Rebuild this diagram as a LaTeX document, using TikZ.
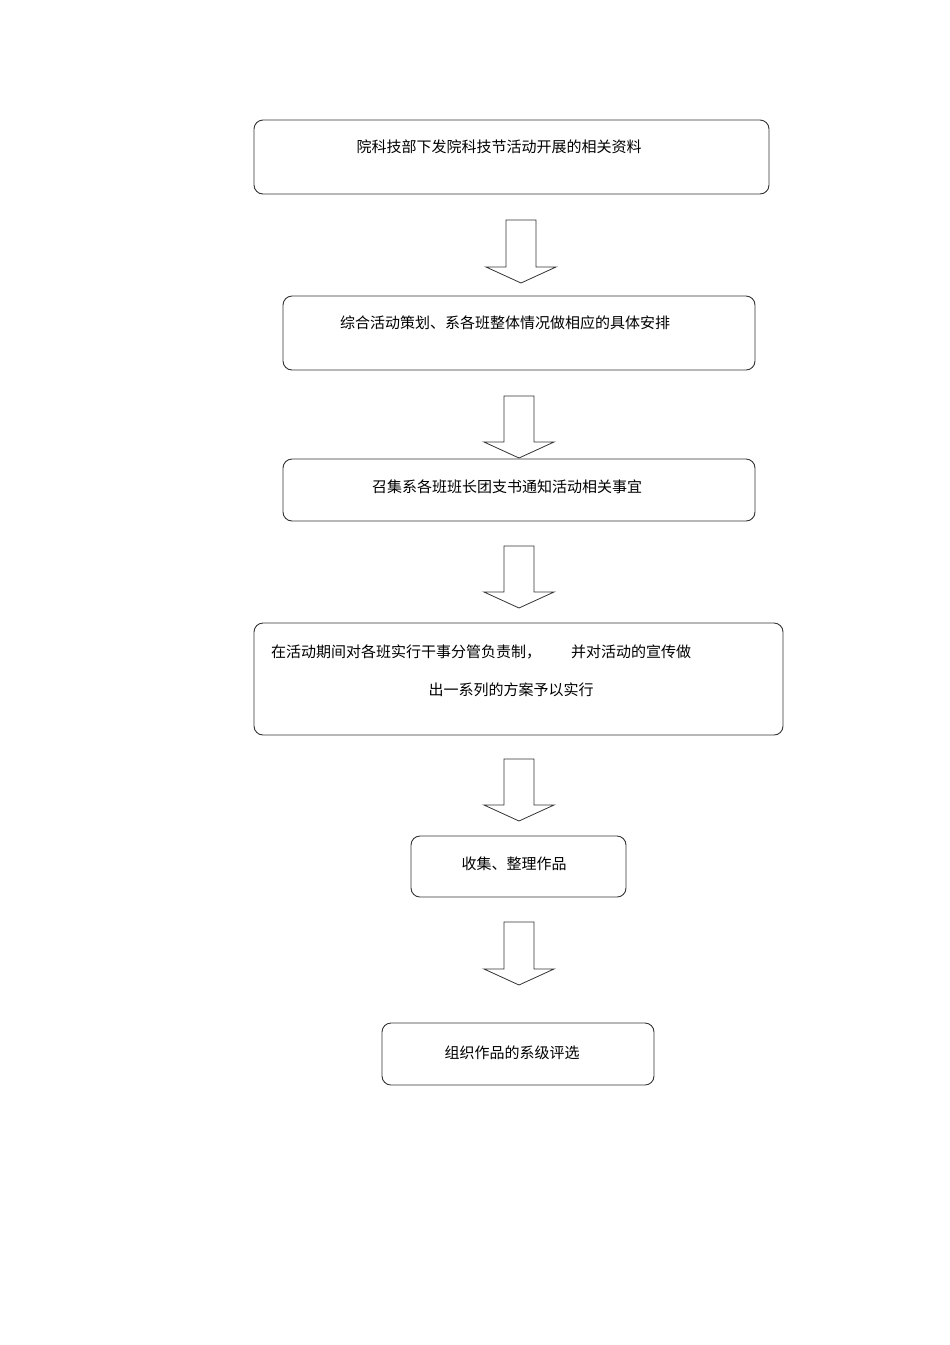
\documentclass[tikz,border=0pt]{standalone}
\usepackage{fontspec}
\setmainfont{Noto Sans CJK SC}
\begin{document}
\begin{tikzpicture}[x=1pt,y=-1pt,
  stepbox/.style={draw=black!80,line width=0.9pt,rounded corners=9pt},
  lbl/.style={font=\fontsize{15}{18}\selectfont,inner sep=0pt},
  blk/.style={draw=black!80,line width=0.8pt,fill=white}]
\useasboundingbox (0,0) rectangle (950,1345);
\newcommand{\downarr}[3]{% cx, top, bottom
  \draw[blk] (#1-15,#2) -- (#1+15,#2) -- (#1+15,#3-16) -- (#1+35,#3-16) -- (#1,#3) -- (#1-35,#3-16) -- (#1-15,#3-16) -- cycle;}
\draw[stepbox] (254,120) rectangle (769,194);
\node[lbl] (t1) at (499,147) {院科技部下发院科技节活动开展的相关资料};
\draw[stepbox] (283,296) rectangle (755,370);
\node[lbl] (t2) at (505,323) {综合活动策划、系各班整体情况做相应的具体安排};
\draw[stepbox] (283,459) rectangle (755,521);
\node[lbl] (t3) at (507,487) {召集系各班班长团支书通知活动相关事宜};
\draw[stepbox] (254,623) rectangle (783,735);
\node[lbl,anchor=west] (t4a) at (271,652) {在活动期间对各班实行干事分管负责制，\hspace{2em}并对活动的宣传做};
\node[lbl] (t4b) at (511,690) {出一系列的方案予以实行};
\draw[stepbox] (411,836) rectangle (626,897);
\node[lbl] (t5) at (514,864) {收集、整理作品};
\draw[stepbox] (382,1023) rectangle (654,1085);
\node[lbl] (t6) at (512,1053) {组织作品的系级评选};
\downarr{521}{220}{283}
\downarr{519}{396}{458}
\downarr{519}{546}{608}
\downarr{519}{759}{821}
\downarr{519}{922}{985}
\end{tikzpicture}
\end{document}
